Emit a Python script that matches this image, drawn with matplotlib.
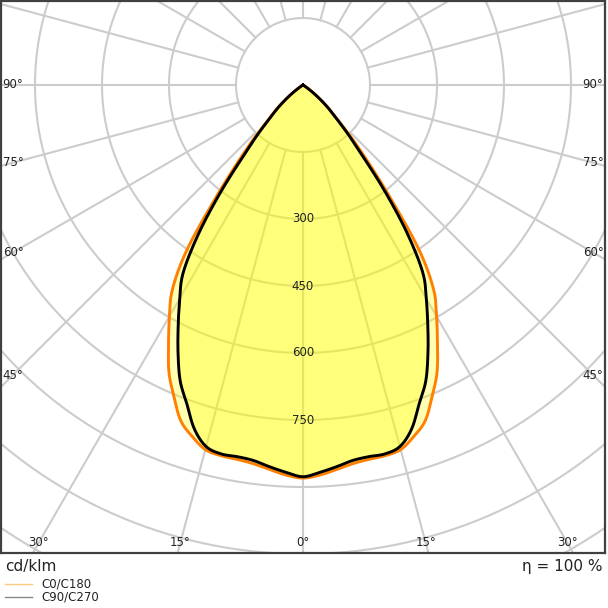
import numpy as np
import matplotlib.pyplot as plt
from matplotlib.lines import Line2D

# Lichtstärkeverteilung (cd/klm) über den Ausstrahlungswinkel gamma
gamma = [0, 2.5, 5, 7.5, 10, 12.5, 15, 17.5, 20, 22.5, 25, 27.5, 30,
         32.5, 35, 37.5, 40, 42.5, 45, 47.5, 50, 52.5, 55, 57.5, 60]
c0_c180 = [880, 874, 864, 855, 851, 850, 845, 825, 800, 755, 710, 652, 598,
           545, 458, 330, 232, 163, 110, 80, 52, 30, 14, 5, 0]
c90_c270 = [877, 868, 858, 848, 845, 846, 838, 808, 760, 718, 662, 605, 552,
            500, 410, 305, 208, 150, 105, 78, 52, 30, 14, 5, 0]

grid_radii = [150, 300, 450, 600, 750, 900, 1050, 1200, 1350, 1500]
grid_angles = list(range(0, 360, 15))
value_labels = [300, 450, 600, 750]
angle_labels = [0, 15, 30, 45, 60, 75, 90]
series_names = ['C0/C180', 'C90/C270']

# Maßstab: Pixel pro cd/klm
s = 67 / 150

fig = plt.figure(figsize=(6.08, 6.08), dpi=100)
ax = fig.add_axes([1 / 608, 55 / 608, 604 / 608, 552 / 608])
xmax = 302 / s
ytop = 84 / s
ybot = -468 / s
ax.set_xlim(-xmax, xmax)
ax.set_ylim(ybot, ytop)
ax.set_xticks([])
ax.set_yticks([])
for sp in ax.spines.values():
    sp.set_color('#404040')
    sp.set_linewidth(1.6)

# Gitter
grid_col = '#cccccc'
t = np.linspace(0, 2 * np.pi, 500)
for r in grid_radii:
    ax.plot(r * np.sin(t), -r * np.cos(t), color=grid_col, lw=1.5, zorder=1)
for a in grid_angles:
    ar = np.radians(a)
    rr = np.array([grid_radii[0], 3000])
    ax.plot(rr * np.sin(ar), -rr * np.cos(ar), color=grid_col, lw=1.5, zorder=1)


def glatt(vals, n=12):
    # Catmull-Rom zwischen den Stützstellen, nur fürs Zeichnen
    v = np.array(vals, dtype=float)
    p = np.concatenate([[v[1]], v, [v[-1]]])
    g = np.array(gamma, dtype=float)
    gs, rs = [], []
    for i in range(len(v) - 1):
        p0, p1, p2, p3 = p[i], p[i + 1], p[i + 2], p[i + 3]
        tt = np.linspace(0, 1, n, endpoint=False)
        r = 0.5 * (2 * p1 + (-p0 + p2) * tt
                   + (2 * p0 - 5 * p1 + 4 * p2 - p3) * tt ** 2
                   + (-p0 + 3 * p1 - 3 * p2 + p3) * tt ** 3)
        gs.append(g[i] + (g[i + 1] - g[i]) * tt)
        rs.append(r)
    gs.append([g[-1]])
    rs.append([v[-1]])
    return np.radians(np.concatenate(gs)), np.clip(np.concatenate(rs), 0, None)


def kurve(vals):
    g, v = glatt(vals)
    x = np.concatenate([-(v * np.sin(g))[::-1], (v * np.sin(g))[1:]])
    y = np.concatenate([-(v * np.cos(g))[::-1], -(v * np.cos(g))[1:]])
    return x, y


xo, yo = kurve(c0_c180)
xb, yb = kurve(c90_c270)
ax.fill(xo, yo, color='#ffff00', alpha=0.3, lw=0, zorder=2)
ax.fill(xb, yb, color='#ffff00', alpha=0.3, lw=0, zorder=2)
ax.plot(xo, yo, color='#ff8000', lw=2.1, zorder=3, solid_joinstyle='round')
ax.plot(xb, yb, color='black', lw=2.1, zorder=4, solid_joinstyle='round')

# Werte entlang 0°
for v in value_labels:
    ax.text(0, -v, str(v), ha='center', va='center', fontsize=8.5,
            color='#222222', zorder=5)

# Winkelbeschriftung am Rahmen
xin = xmax - 12 / s
yin = ybot + 10 / s
for a in angle_labels:
    ar = np.radians(a)
    for sgn in ([1] if a == 0 else [-1, 1]):
        cands = []
        if np.sin(ar) > 1e-9:
            cands.append(xin / np.sin(ar))
        if np.cos(ar) > 1e-9:
            cands.append(-yin / np.cos(ar))
        d = min(cands)
        ax.text(sgn * d * np.sin(ar), -d * np.cos(ar), f'{a}°', ha='center',
                va='center', fontsize=8.5, color='#222222', zorder=5)

fig.text(5 / 608, 1 - 566 / 608, 'cd/klm', ha='left', va='center',
         fontsize=11, color='#222222')
fig.text(603 / 608, 1 - 566 / 608, 'η = 100 %', ha='right', va='center',
         fontsize=11, color='#222222')

leg_cols = ['#ffc880', '#888888']
for i, (name, c) in enumerate(zip(series_names, leg_cols)):
    yy = 1 - (584 + 13 * i) / 608
    fig.add_artist(Line2D([5 / 608, 32 / 608], [yy, yy], color=c, lw=1,
                          transform=fig.transFigure))
    fig.text(41 / 608, yy, name, ha='left', va='center', fontsize=8.5,
             color='#222222')

fig.savefig('out.png', dpi=100)
